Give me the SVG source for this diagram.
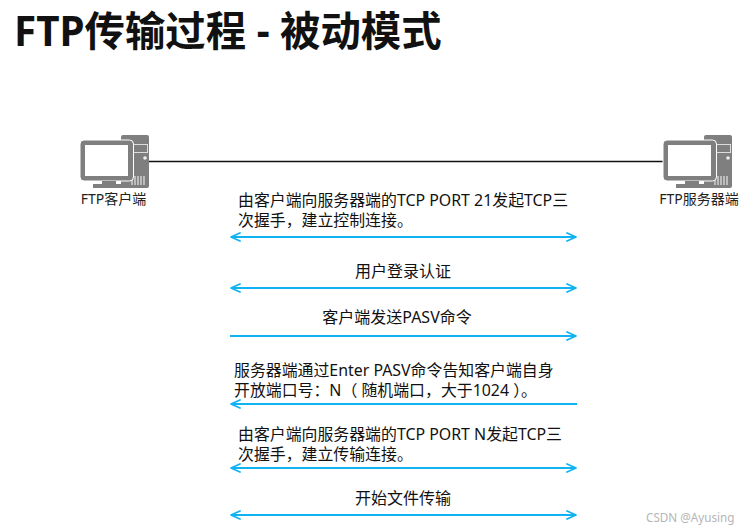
<svg xmlns="http://www.w3.org/2000/svg" width="748" height="530" viewBox="0 0 748 530">
<style>
text{font-family:"Noto Sans","Noto Sans CJK SC",sans-serif;fill:#111}
.t{font-size:15.900px}
.c{font-size:16px;text-anchor:middle}
.l{font-size:14px;text-anchor:middle;fill:#222}
.a{stroke:#0fb3f2;stroke-width:1.8;fill:none}
</style>
<defs>
<marker id="ah" viewBox="0 0 12 10" refX="10.500" refY="5" markerWidth="12" markerHeight="10" markerUnits="userSpaceOnUse" orient="auto-start-reverse"><path d="M1.500 1L10.500 5L1.500 9" fill="none" stroke="#0fb3f2" stroke-width="1.800" stroke-linejoin="round" stroke-linecap="round"/></marker>
<g id="pc">
<rect x="41" y="0" width="28" height="53" rx="2" fill="#7f7f7f"/>
<rect x="53.500" y="9.500" width="14" height="8" fill="none" stroke="#ddd" stroke-width="1"/>
<circle cx="65" cy="23" r="1.800" fill="#eee"/>
<path d="M52 50V41M55 50V41M58 50V41M61 50V41M64 50V41" stroke="#eee" stroke-width="1.100"/>
<rect x="0" y="5" width="53.500" height="41" rx="4" fill="#7f7f7f" stroke="#fff" stroke-width="1"/>
<rect x="5" y="10" width="43" height="31" fill="#fff"/>
<path d="M22 46H36V49H48V53H13V49H22Z" fill="#7f7f7f"/>
</g>
</defs>
<text x="14" y="46" style="font-size:40.400px;font-weight:700">FTP传输过程 - 被动模式</text>
<g id="connectors">
<line x1="148" y1="161.500" x2="664" y2="161.500" stroke="#111" stroke-width="1.300"/>
<line class="a" x1="231" y1="237" x2="576" y2="237" marker-start="url(#ah)" marker-end="url(#ah)"/>
<line class="a" x1="231" y1="288" x2="576" y2="288" marker-start="url(#ah)" marker-end="url(#ah)"/>
<line class="a" x1="230" y1="336" x2="576" y2="336" marker-end="url(#ah)"/>
<line class="a" x1="577" y1="404" x2="231" y2="404" marker-end="url(#ah)"/>
<line class="a" x1="231" y1="468" x2="576" y2="468" marker-start="url(#ah)" marker-end="url(#ah)"/>
<line class="a" x1="231" y1="515" x2="576" y2="515" marker-start="url(#ah)" marker-end="url(#ah)"/>
</g>
<g id="client"><use href="#pc" x="80" y="135"/><text class="l" x="113.500" y="204">FTP客户端</text></g>
<g id="server"><use href="#pc" x="663" y="135"/><text class="l" x="699" y="204">FTP服务器端</text></g>
<g id="m1"><text class="t" x="238" y="206">由客户端向服务器端的TCP PORT 21发起TCP三</text><text class="t" x="238" y="226">次握手，建立控制连接。</text></g>
<g id="m2"><text class="c" x="403" y="277">用户登录认证</text></g>
<g id="m3"><text class="c" x="397" y="323">客户端发送PASV命令</text></g>
<g id="m4"><text class="t" x="234" y="376">服务器端通过Enter PASV命令告知客户端自身</text><text class="t" x="234" y="396">开放端口号：N（ 随机端口，大于1024 ）。</text></g>
<g id="m5"><text class="t" x="238" y="440">由客户端向服务器端的TCP PORT N发起TCP三</text><text class="t" x="238" y="460">次握手，建立传输连接。</text></g>
<g id="m6"><text class="c" x="403" y="504">开始文件传输</text></g>
<text x="646" y="522" style="font-size:11.700px;fill:#b5b5b5">CSDN @Ayusing</text>
</svg>
